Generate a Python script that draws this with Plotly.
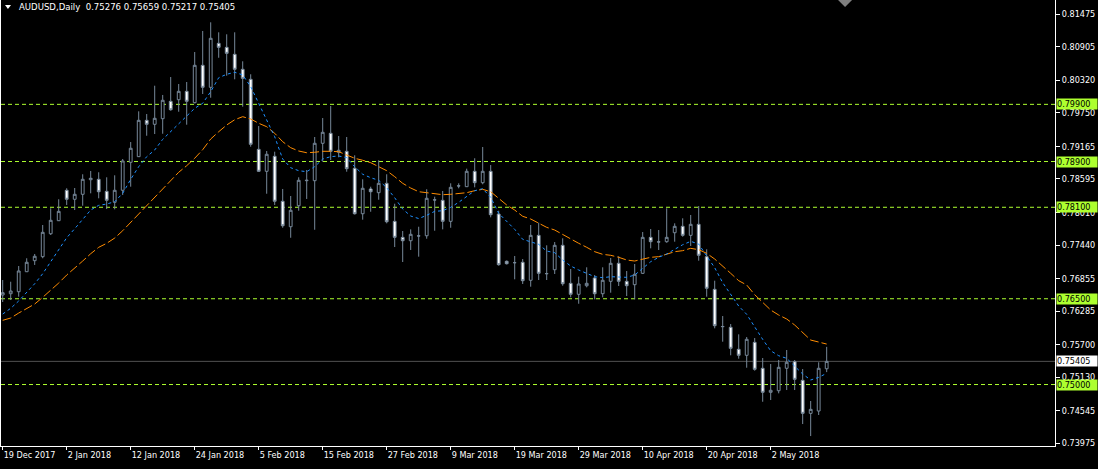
"""
AUDUSD daily candles with two moving averages and horizontal levels (MT4 look).
"""
import plotly.graph_objects as go

# --- data --------------------------------------------------------------------
opens = [
    0.76566, 0.76588, 0.76623, 0.76973, 0.77166, 0.77236, 0.77637, 0.77865, 0.78397, 0.78240,
    0.78327, 0.78582, 0.78589, 0.78379, 0.78187, 0.78397, 0.78887, 0.78985, 0.79621, 0.79551,
    0.79649, 0.79953, 0.79981, 0.80128, 0.79929, 0.80583, 0.80198, 0.80967, 0.80897, 0.80775,
    0.80513, 0.80338, 0.79114, 0.78729, 0.78992, 0.78205, 0.77760, 0.78127, 0.78565, 0.78565,
    0.79219, 0.79394, 0.79062, 0.79079, 0.78782, 0.77987, 0.78420, 0.78355, 0.78519, 0.77854,
    0.77574, 0.77515, 0.77597, 0.77602, 0.78227, 0.78222, 0.77854, 0.78472, 0.78460, 0.78729,
    0.78530, 0.78729, 0.77982, 0.77155, 0.77131, 0.77138, 0.76823, 0.77609, 0.76938, 0.77008,
    0.77435, 0.76770, 0.76578, 0.76728, 0.76863, 0.76588, 0.76805, 0.77120, 0.76805, 0.76746,
    0.76945, 0.77574, 0.77492, 0.77498, 0.77655, 0.77767, 0.77609, 0.77802, 0.77236, 0.76665,
    0.76011, 0.76001, 0.75616, 0.75511, 0.75738, 0.75284, 0.74864, 0.74892, 0.75284, 0.75400,
    0.75074, 0.74496, 0.74537, 0.75276,
]
highs = [
    0.76828, 0.76798, 0.77073, 0.77208, 0.77283, 0.77790, 0.78082, 0.78240, 0.78432, 0.78437,
    0.78677, 0.78735, 0.78712, 0.78624, 0.78659, 0.78944, 0.79241, 0.79778, 0.79731, 0.80226,
    0.80064, 0.80378, 0.80256, 0.80291, 0.80815, 0.81183, 0.81335, 0.81160, 0.81125, 0.81160,
    0.80653, 0.80426, 0.79521, 0.79084, 0.79072, 0.78420, 0.78297, 0.78624, 0.78752, 0.79329,
    0.79661, 0.79871, 0.79346, 0.79329, 0.79009, 0.78589, 0.78460, 0.78922, 0.78677, 0.78162,
    0.77685, 0.77714, 0.77760, 0.78415, 0.78285, 0.78385, 0.78519, 0.78519, 0.78775, 0.78957,
    0.79154, 0.78839, 0.78040, 0.77169, 0.77248, 0.77195, 0.77790, 0.77830, 0.77435, 0.77492,
    0.77557, 0.77020, 0.76886, 0.77050, 0.76915, 0.77050, 0.77213, 0.77243, 0.76985, 0.77108,
    0.77667, 0.77720, 0.77702, 0.78082, 0.77819, 0.77907, 0.77965, 0.78122, 0.77365, 0.76816,
    0.76198, 0.76058, 0.75878, 0.75831, 0.75813, 0.75464, 0.75359, 0.75429, 0.75604, 0.75429,
    0.75271, 0.74712, 0.75389, 0.75659,
]
lows = [
    0.76443, 0.76478, 0.76536, 0.76968, 0.77091, 0.77208, 0.77615, 0.77860, 0.78140, 0.78052,
    0.78127, 0.78344, 0.78257, 0.78069, 0.78064, 0.78315, 0.78460, 0.78980, 0.79351, 0.79381,
    0.79386, 0.79789, 0.79771, 0.79544, 0.79918, 0.80081, 0.80016, 0.80715, 0.80401, 0.80338,
    0.79859, 0.79159, 0.78717, 0.78337, 0.78140, 0.77742, 0.77567, 0.78040, 0.78245, 0.77707,
    0.78897, 0.78927, 0.78974, 0.78722, 0.77973, 0.77883, 0.78022, 0.78232, 0.77819, 0.77405,
    0.77143, 0.77353, 0.77236, 0.77550, 0.77690, 0.77714, 0.77742, 0.78432, 0.78455, 0.78449,
    0.78502, 0.77924, 0.77078, 0.77099, 0.76840, 0.76758, 0.76711, 0.76828, 0.76828, 0.76933,
    0.76728, 0.76525, 0.76413, 0.76700, 0.76490, 0.76525, 0.76606, 0.76723, 0.76548, 0.76490,
    0.76933, 0.77382, 0.77353, 0.77480, 0.77498, 0.77585, 0.77423, 0.77166, 0.76536, 0.75983,
    0.75749, 0.75511, 0.75452, 0.75294, 0.75242, 0.74699, 0.74729, 0.74846, 0.74904, 0.74904,
    0.74309, 0.74099, 0.74467, 0.75217,
]
closes = [
    0.76606, 0.76636, 0.76986, 0.77138, 0.77243, 0.77662, 0.77872, 0.78029, 0.78240, 0.78327,
    0.78589, 0.78607, 0.78372, 0.78222, 0.78397, 0.78910, 0.79132, 0.79621, 0.79551, 0.79656,
    0.79971, 0.79806, 0.80128, 0.79953, 0.80583, 0.80198, 0.81055, 0.80897, 0.80792, 0.80513,
    0.80355, 0.79201, 0.78729, 0.79027, 0.78205, 0.77777, 0.78047, 0.78572, 0.78572, 0.79219,
    0.79411, 0.79079, 0.79097, 0.78775, 0.77987, 0.78432, 0.78372, 0.78519, 0.77847, 0.77574,
    0.77515, 0.77627, 0.77600, 0.78257, 0.78230, 0.77854, 0.78449, 0.78475, 0.78729, 0.78530,
    0.78729, 0.77970, 0.77096, 0.77113, 0.77131, 0.76816, 0.77609, 0.76945, 0.76940, 0.77435,
    0.76763, 0.76578, 0.76758, 0.76770, 0.76588, 0.76823, 0.77120, 0.76805, 0.76728, 0.76928,
    0.77574, 0.77498, 0.77495, 0.77574, 0.77767, 0.77609, 0.77802, 0.77260, 0.76683, 0.76029,
    0.76015, 0.75633, 0.75511, 0.75791, 0.75266, 0.74864, 0.74899, 0.75301, 0.75389, 0.75091,
    0.74496, 0.74566, 0.75284, 0.75405,
]

# fast MA (blue, dotted) and slow MA (orange, dashed), as drawn on the chart
ma_fast = [
    0.76233, 0.76333, 0.76461, 0.76606, 0.76763, 0.76938, 0.77148, 0.77341, 0.77567, 0.77725,
    0.77889, 0.78052, 0.78134, 0.78157, 0.78197, 0.78344, 0.78589, 0.78810, 0.78985, 0.79102,
    0.79288, 0.79421, 0.79556, 0.79684, 0.79831, 0.79918, 0.80122, 0.80366, 0.80426, 0.80461,
    0.80414, 0.80209, 0.79918, 0.79644, 0.79334, 0.78944, 0.78792, 0.78740, 0.78722, 0.78810,
    0.78944, 0.78985, 0.78997, 0.78967, 0.78810, 0.78677, 0.78617, 0.78572, 0.78442, 0.78267,
    0.78069, 0.77947, 0.77903, 0.77959, 0.78029, 0.78040, 0.78099, 0.78187, 0.78285, 0.78390,
    0.78425, 0.78274, 0.77994, 0.77847, 0.77714, 0.77539, 0.77498, 0.77452, 0.77335, 0.77306,
    0.77178, 0.77073, 0.77003, 0.76945, 0.76886, 0.76868, 0.76886, 0.76880, 0.76875, 0.76915,
    0.77033, 0.77148, 0.77225, 0.77283, 0.77365, 0.77445, 0.77504, 0.77457, 0.77248, 0.77043,
    0.76781, 0.76566, 0.76373, 0.76228, 0.76000, 0.75790, 0.75591, 0.75504, 0.75458, 0.75324,
    0.75184, 0.75079, 0.75126, 0.75196,
]
ma_slow = [
    0.76123, 0.76163, 0.76250, 0.76333, 0.76408, 0.76525, 0.76648, 0.76775, 0.76915, 0.77033,
    0.77160, 0.77288, 0.77400, 0.77470, 0.77562, 0.77690, 0.77837, 0.77977, 0.78127, 0.78285,
    0.78432, 0.78565, 0.78712, 0.78827, 0.78957, 0.79107, 0.79294, 0.79421, 0.79539, 0.79631,
    0.79684, 0.79644, 0.79569, 0.79509, 0.79394, 0.79247, 0.79142, 0.79084, 0.79054, 0.79062,
    0.79079, 0.79079, 0.79072, 0.79014, 0.78957, 0.78922, 0.78880, 0.78810, 0.78740, 0.78635,
    0.78519, 0.78437, 0.78372, 0.78355, 0.78344, 0.78320, 0.78327, 0.78337, 0.78355, 0.78390,
    0.78414, 0.78372, 0.78250, 0.78140, 0.78052, 0.77942, 0.77895, 0.77819, 0.77749, 0.77702,
    0.77620, 0.77539, 0.77470, 0.77400, 0.77323, 0.77277, 0.77260, 0.77225, 0.77178, 0.77160,
    0.77195, 0.77225, 0.77236, 0.77283, 0.77323, 0.77341, 0.77382, 0.77358, 0.77295, 0.77195,
    0.77078, 0.76945, 0.76816, 0.76741, 0.76571, 0.76438, 0.76303, 0.76216, 0.76146, 0.76041,
    0.75906, 0.75778, 0.75743, 0.75708,
]

date_labels = [
    "19 Dec 2017", "2 Jan 2018", "12 Jan 2018", "24 Jan 2018", "5 Feb 2018",
    "15 Feb 2018", "27 Feb 2018", "9 Mar 2018", "19 Mar 2018", "29 Mar 2018",
    "10 Apr 2018", "20 Apr 2018", "2 May 2018",
]
date_label_bars = [0, 8, 16, 24, 32, 40, 48, 56, 64, 72, 80, 88, 96]

price_ticks = [
    0.81475, 0.80905, 0.80320, 0.79750, 0.79165, 0.78595, 0.78010,
    0.77440, 0.76855, 0.76285, 0.75700, 0.75130, 0.74545, 0.73975,
]
levels = [0.79900, 0.78900, 0.78100, 0.76500, 0.75000]

symbol = "AUDUSD,Daily"

# --- styling -----------------------------------------------------------------
FONT = "DejaVu Sans Condensed, Liberation Sans, sans-serif"
FONT_SIZE = 9
CANDLE_LINE = "#778899"
LEVEL_COLOR = "#ADFF2F"
BID_LINE = "#505050"

bars = list(range(len(closes)))
last = closes[-1]

fig = go.Figure()

fig.add_trace(go.Scatter(
    x=bars, y=ma_slow, mode="lines",
    line=dict(color="#FF8C00", width=1, dash="9px,3px"),
    hoverinfo="skip", showlegend=False,
))
fig.add_trace(go.Scatter(
    x=bars, y=ma_fast, mode="lines",
    line=dict(color="#1E90FF", width=1, dash="3px,3px"),
    hoverinfo="skip", showlegend=False,
))
fig.add_trace(go.Candlestick(
    x=bars, open=opens, high=highs, low=lows, close=closes,
    increasing=dict(line=dict(color=CANDLE_LINE, width=1), fillcolor="#000000"),
    decreasing=dict(line=dict(color=CANDLE_LINE, width=1), fillcolor="#FFFFFF"),
    whiskerwidth=0, hoverinfo="skip", showlegend=False,
))

shapes = []
annotations = []

for lvl in levels:
    shapes.append(dict(
        type="line", xref="paper", yref="y", x0=0, x1=1, y0=lvl, y1=lvl,
        line=dict(color=LEVEL_COLOR, width=1, dash="4px,3px"), layer="below",
    ))
    annotations.append(dict(
        xref="paper", yref="y", x=1, y=lvl, xanchor="left", yanchor="middle",
        xshift=1, text=f"{lvl:.5f}", showarrow=False, bgcolor=LEVEL_COLOR,
        width=40, height=10, align="left", borderpad=0,
        font=dict(family=FONT, size=FONT_SIZE, color="#000000"),
    ))

# bid line + price box
shapes.append(dict(
    type="line", xref="paper", yref="y", x0=0, x1=1, y0=last, y1=last,
    line=dict(color=BID_LINE, width=1), layer="below",
))
annotations.append(dict(
    xref="paper", yref="y", x=1, y=last, xanchor="left", yanchor="middle",
    xshift=1, text=f"{last:.5f}", showarrow=False, bgcolor="#FFFFFF",
    width=40, height=10, align="left", borderpad=0,
    font=dict(family=FONT, size=FONT_SIZE, color="#000000"),
))

# header: small triangle + symbol and OHLC of the last bar
shapes.append(dict(
    type="path", xref="paper", yref="paper",
    path="M 0.0038,0.9888 L 0.0095,0.9888 L 0.0066,0.9798 Z",
    fillcolor="#FFFFFF", line=dict(width=0),
))
annotations.append(dict(
    xref="paper", yref="paper", x=0.0152, y=1, xanchor="left", yanchor="top",
    yshift=1, showarrow=False,
    text=f"{symbol}  {opens[-1]:.5f} {highs[-1]:.5f} {lows[-1]:.5f} {closes[-1]:.5f}",
    font=dict(family=FONT, size=9.5, color="#FFFFFF"),
))

# chart shift marker at the top
shapes.append(dict(
    type="path", xref="paper", yref="paper",
    path="M 0.7942,1 L 0.8075,1 L 0.8008,0.9843 Z",
    fillcolor="#7F7F7F", line=dict(width=0),
))

fig.update_layout(
    template="none",
    width=1098, height=469, autosize=False,
    margin=dict(l=1, r=43, t=0, b=23, autoexpand=False),
    paper_bgcolor="#000000", plot_bgcolor="#000000",
    font=dict(family=FONT, size=FONT_SIZE, color="#FFFFFF"),
    boxgap=0.5,
    hovermode=False,
    showlegend=False,
    shapes=shapes,
    annotations=annotations,
    xaxis=dict(
        range=[-0.2125, 131.54],
        tickvals=date_label_bars, ticktext=date_labels,
        ticks="outside", ticklen=3, tickcolor="#FFFFFF",
        ticklabelposition="outside right", ticklabeloverflow="allow",
        showline=True, linecolor="#FFFFFF", linewidth=1,
        showgrid=False, zeroline=False, automargin=False,
        rangeslider=dict(visible=False),
        tickfont=dict(family=FONT, size=FONT_SIZE, color="#FFFFFF"),
    ),
    yaxis=dict(
        side="right",
        range=[0.73925, 0.81725],
        tickvals=price_ticks, ticktext=[f"{p:.5f}" for p in price_ticks],
        ticks="outside", ticklen=4, tickcolor="#FFFFFF",
        showline=True, mirror=True, linecolor="#FFFFFF", linewidth=1,
        showgrid=False, zeroline=False, automargin=False,
        tickfont=dict(family=FONT, size=FONT_SIZE, color="#FFFFFF"),
    ),
)

# the page's default body margin would shift the chart by 8px
fig.write_html(
    "out.html",
    config={"displayModeBar": False},
    post_script="document.body.style.margin='0';document.body.style.overflow='hidden';",
)
